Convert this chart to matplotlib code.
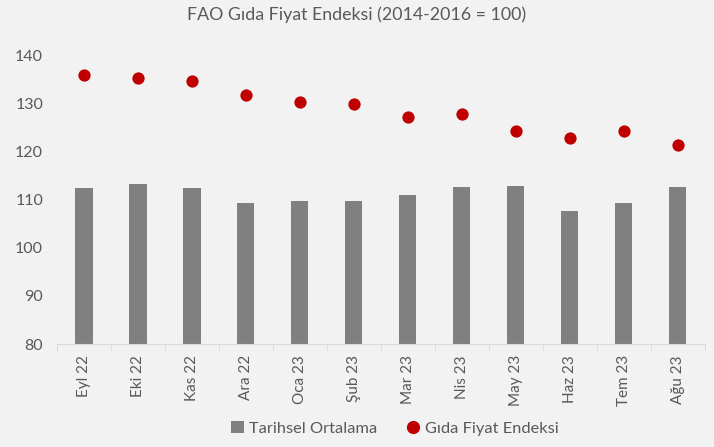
import matplotlib
matplotlib.use("Agg")
import matplotlib.pyplot as plt
import numpy as np
from matplotlib.lines import Line2D
from matplotlib.patches import Patch

months = ["Eyl 22", "Eki 22", "Kas 22", "Ara 22", "Oca 23", "Şub 23",
          "Mar 23", "Nis 23", "May 23", "Haz 23", "Tem 23", "Ağu 23"]
tarihsel = [112.4, 113.2, 112.4, 109.25, 109.7, 109.7, 111.1, 112.65, 112.85, 107.7, 109.25, 112.65]
gida = [136.0, 135.4, 134.8, 131.9, 130.35, 129.9, 127.2, 127.85, 124.25, 122.8, 124.25, 121.5]
yticks = [80, 90, 100, 110, 120, 130, 140]

plt.rcParams['font.family'] = ['Lato', 'DejaVu Sans']
bg = "#F2F2F2"
txt = "#595959"

fig = plt.figure(figsize=(7.14, 4.47), dpi=100, facecolor=bg)
ax = fig.add_axes([0.0798, 0.2304, 0.907, 0.645], facecolor=bg)

x = np.arange(len(months))
ax.bar(x, tarihsel, width=0.32, color="#808080", zorder=2)
ax.scatter(x, gida, s=78, color="#C00000", zorder=3, linewidths=0)

ax.set_ylim(80, 140)
ax.set_xlim(-0.5, len(months) - 0.5)
ax.set_yticks(yticks)
ax.set_xticks(x)
ax.set_xticklabels(months, rotation=90)
ax.set_xticks(np.arange(-0.5, len(months)), minor=True)
ax.tick_params(axis='x', which='major', length=0, pad=8, labelsize=11, labelcolor=txt)
ax.tick_params(axis='x', which='minor', length=5, color="#D9D9D9")
ax.tick_params(axis='y', length=0, pad=10, labelsize=11.5, labelcolor=txt)

for s in ["top", "right", "left"]:
    ax.spines[s].set_visible(False)
ax.spines["bottom"].set_color("#D9D9D9")

fig.suptitle("FAO Gıda Fiyat Endeksi (2014-2016 = 100)", y=0.985, fontsize=12.8, color=txt)

handles = [Patch(facecolor="#808080", label="Tarihsel Ortalama"),
           Line2D([0], [0], marker='o', linestyle='None', markerfacecolor="#C00000",
                  markeredgecolor="#C00000", markersize=8.5, label="Gıda Fiyat Endeksi")]
leg = fig.legend(handles=handles, loc="lower center", bbox_to_anchor=(0.553, -0.008), ncol=2,
                 frameon=False, fontsize=11.8, handlelength=0.8, handletextpad=0.3,
                 columnspacing=1.8)
for t in leg.get_texts():
    t.set_color(txt)

fig.savefig("out.png", dpi=100, facecolor=bg)
